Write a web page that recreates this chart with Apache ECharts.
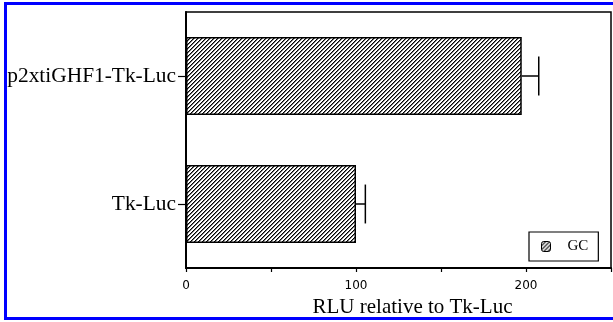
<!DOCTYPE html>
<html>
<head>
<meta charset="utf-8">
<script src="https://cdn.jsdelivr.net/npm/echarts@6/dist/echarts.min.js"></script>
<style>
  html, body { margin: 0; padding: 0; background: #fff; overflow: hidden; }
  #chart { width: 613px; height: 322px; }
</style>
</head>
<body>
<div id="chart"></div>
<script>
// data
var categories = ['Tk-Luc', 'p2xtiGHF1-Tk-Luc'];
var gcValues = [100, 197.5];
var gcErrors = [5.5, 10];
var xTicks = [0, 100, 200];

// hatch tile "////"
function hatchTile() {
  var c = document.createElement('canvas');
  c.width = 4; c.height = 4;
  var ctx = c.getContext('2d');
  ctx.fillStyle = '#fff';
  ctx.fillRect(0, 0, 4, 4);
  for (var i = 0; i < 4; i++) {
    ctx.fillStyle = '#000';
    ctx.fillRect(i, 3 - i, 1, 1);
    ctx.fillStyle = '#777';
    ctx.fillRect((i + 1) % 4, 3 - i, 1, 1);
  }
  return c;
}
var hatch = { image: hatchTile(), repeat: 'repeat' };

var errData = [];
for (var i = 0; i < categories.length; i++) {
  errData.push([i, gcValues[i], gcValues[i] + gcErrors[i]]);
}

var chart = echarts.init(document.getElementById('chart'));
var option = {
  animation: false,
  backgroundColor: '#fff',
  grid: {
    left: 186, top: 12, right: 2, bottom: 54,
    outerBoundsMode: 'none', containLabel: false,
    show: true, borderColor: '#000', borderWidth: 1.5
  },
  legend: {
    left: 529, top: 232,
    data: ['GC'],
    itemWidth: 9, itemHeight: 10,
    padding: [7, 10, 7, 12],
    borderColor: '#000', borderWidth: 1.2,
    textStyle: { fontFamily: 'Liberation Serif', fontSize: 15, color: '#000', padding: [0, 0, 0, 12] },
    itemStyle: { borderColor: '#000', borderWidth: 1 }
  },
  xAxis: {
    type: 'value', min: 0, max: 250, interval: 50,
    name: 'RLU relative to Tk-Luc',
    nameLocation: 'middle', nameGap: 28,
    nameTextStyle: { fontFamily: 'Liberation Serif', fontSize: 21, color: '#000', padding: [0, 0, 0, 28] },
    axisLine: { show: true, lineStyle: { color: '#000', width: 2 } },
    axisTick: { show: true, length: 4, lineStyle: { color: '#000', width: 1.2 } },
    axisLabel: {
      fontFamily: 'DejaVu Sans', fontSize: 12, color: '#000', margin: 12,
      formatter: function (v) { return xTicks.indexOf(v) >= 0 ? String(v) : ''; }
    },
    splitLine: { show: false }
  },
  yAxis: {
    type: 'category', data: categories,
    axisLine: { show: true, lineStyle: { color: '#000', width: 2 } },
    axisTick: { show: true, alignWithLabel: true, length: 8, lineStyle: { color: '#000', width: 1.2 } },
    axisLabel: { fontFamily: 'Liberation Serif', fontSize: 21.4, color: '#000', margin: 10 }
  },
  series: [
    {
      name: 'GC', type: 'bar', data: gcValues,
      barCategoryGap: '39%',
      itemStyle: { color: hatch, borderColor: '#000', borderWidth: 1.5 }
    },
    {
      name: 'err', type: 'custom', data: errData,
      renderItem: function (params, api) {
        var y = api.value(0);
        var p0 = api.coord([api.value(1), y]);
        var p1 = api.coord([api.value(2), y]);
        var half = api.size([0, 1])[1] * 0.152;
        var st = { stroke: '#000', lineWidth: 1.5 };
        return {
          type: 'group',
          children: [
            { type: 'line', shape: { x1: p0[0], y1: p0[1], x2: p1[0], y2: p1[1] }, style: st },
            { type: 'line', shape: { x1: p1[0], y1: p1[1] - half, x2: p1[0], y2: p1[1] + half }, style: st }
          ]
        };
      },
      z: 3
    }
  ],
  // blue frame: top, left, bottom only (right side is cut off in the original)
  graphic: [
    { type: 'line', shape: { x1: 5.5, y1: 3.5, x2: 640, y2: 3.5 }, style: { stroke: '#0000ff', lineWidth: 3 }, silent: true },
    { type: 'line', shape: { x1: 5.5, y1: 2, x2: 5.5, y2: 320 }, style: { stroke: '#0000ff', lineWidth: 3 }, silent: true },
    { type: 'line', shape: { x1: 4, y1: 318.5, x2: 640, y2: 318.5 }, style: { stroke: '#0000ff', lineWidth: 3 }, silent: true }
  ]
};
chart.setOption(option);
</script>
</body>
</html>
